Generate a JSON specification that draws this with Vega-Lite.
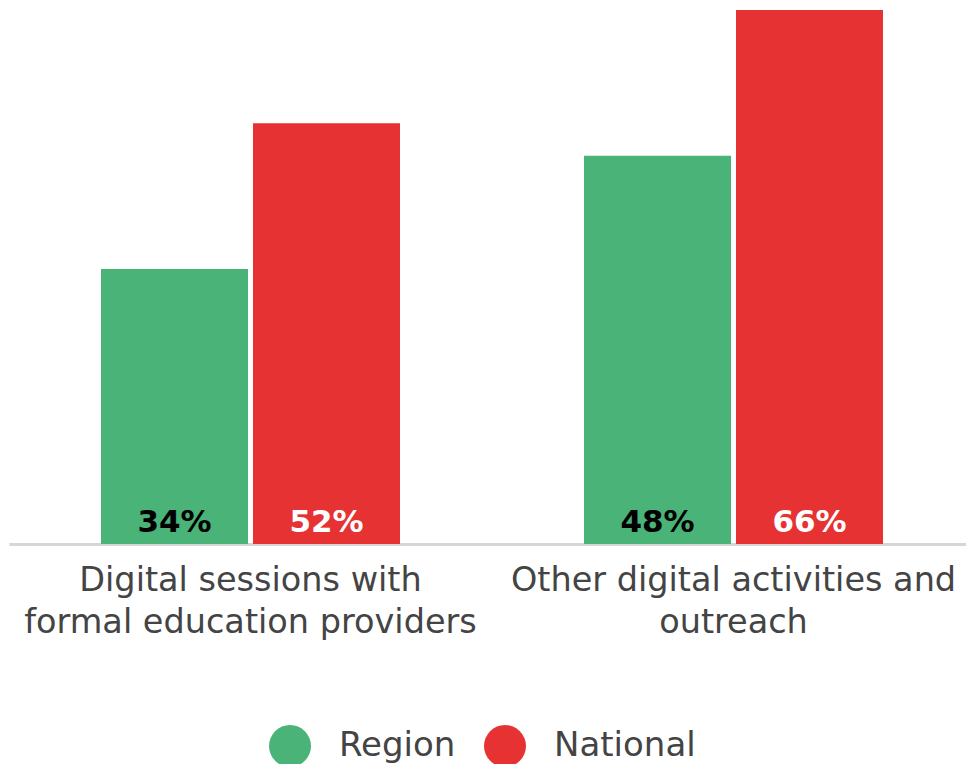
{
  "$schema": "https://vega.github.io/schema/vega-lite/v6.json",
  "width": 966,
  "height": 534,
  "autosize": {"type": "none"},
  "padding": {"left": 9, "top": 10, "right": 0, "bottom": 220},
  "background": "white",
  "config": {"view": {"stroke": null}, "font": "DejaVu Sans"},
  "data": {"values": [
    {"category": "Digital sessions with|formal education providers", "series": "Region", "value": 34, "label": "34%"},
    {"category": "Digital sessions with|formal education providers", "series": "National", "value": 52, "label": "52%"},
    {"category": "Other digital activities and|outreach", "series": "Region", "value": 48, "label": "48%"},
    {"category": "Other digital activities and|outreach", "series": "National", "value": 66, "label": "66%"}
  ]},
  "encoding": {
    "x": {"field": "category", "type": "nominal", "sort": null,
      "scale": {"paddingInner": 0.381, "paddingOuter": 0.1905},
      "axis": {"title": null, "labelAngle": 0, "ticks": false, "domainColor": "#d6d6d6", "domainWidth": 3,
        "labelExpr": "split(datum.label, '|')", "labelFontSize": 33.5, "labelColor": "#444444",
        "labelLineHeight": 42, "labelPadding": 20, "labelFont": "DejaVu Sans", "labelLimit": 0, "labelBaseline": "top"}},
    "xOffset": {"field": "series", "type": "nominal", "sort": ["Region", "National"],
      "scale": {"paddingInner": 0.0329, "paddingOuter": 0}},
    "y": {"field": "value", "type": "quantitative", "scale": {"domain": [0, 66], "nice": false},
      "axis": null}
  },
  "layer": [
    {"mark": {"type": "bar"},
     "encoding": {"color": {"field": "series", "type": "nominal", "sort": ["Region", "National"],
       "scale": {"domain": ["Region", "National"], "range": ["#49B378", "#E63232"]},
       "legend": {"title": null, "orient": "none", "legendX": 260, "legendY": 715, "direction": "horizontal",
         "symbolType": "circle", "symbolSize": 1764, "symbolOpacity": 1, "symbolStrokeWidth": 0,
         "labelFontSize": 34, "labelColor": "#444444", "labelFont": "DejaVu Sans", "labelOffset": 28,
         "columnPadding": 28, "symbolLimit": 0}}}},
    {"mark": {"type": "text", "baseline": "alphabetic", "dy": -12, "fontSize": 31, "fontWeight": "bold"},
     "encoding": {"y": {"datum": 0}, "text": {"field": "label", "type": "nominal"},
       "color": {"condition": {"test": "datum.series == 'Region'", "value": "#000000"}, "value": "#ffffff"}}}
  ]
}
